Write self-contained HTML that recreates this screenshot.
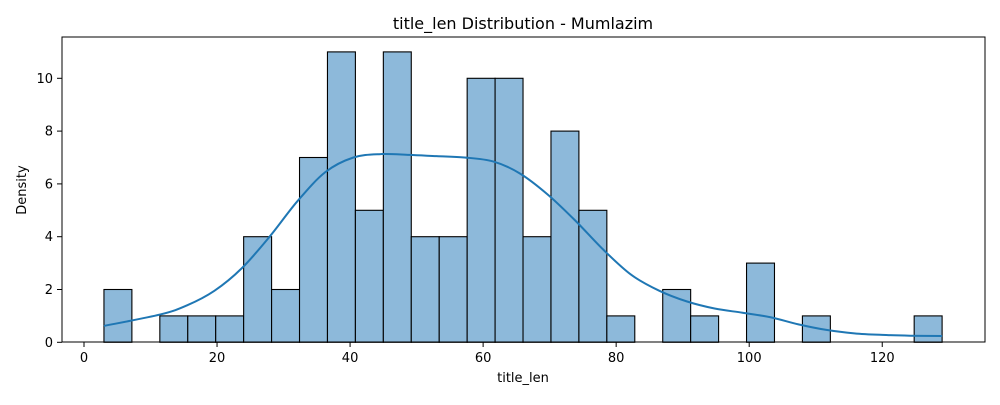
<!DOCTYPE html>
<html><head><meta charset="utf-8"><style>
body{margin:0;background:#fff;font-family:"Liberation Sans","DejaVu Sans",sans-serif}
svg text{font-family:"DejaVu Sans","Liberation Sans",sans-serif}
</style></head><body>
<svg id="chart" width="1000" height="400" xmlns="http://www.w3.org/2000/svg">
<rect width="1000" height="400" fill="#fff"/>
<text x="523" y="29" text-anchor="middle" font-size="16">title_len Distribution - Mumlazim</text>
<g id="bars"></g>
<path id="kde" fill="none" stroke="#1f77b4" stroke-width="2"/>
<rect x="62" y="37" width="923" height="305" fill="none" stroke="#000" stroke-width="1"/>
<g id="xticks"></g><g id="yticks"></g>
<text x="523" y="382" text-anchor="middle" font-size="13">title_len</text>
<text transform="translate(26,190) rotate(-90)" text-anchor="middle" font-size="13">Density</text>
</svg>
<script>
const binStart = 3;
const binWidth = 4.2;
const counts = [2,0,1,1,1,4,2,7,11,5,11,4,4,10,10,4,8,5,1,0,2,1,0,3,0,1,0,0,0,1];
const kdeX = [3,11.4,15.5,19.6,23.7,27.9,32.1,36.3,40.5,44.6,48.9,53,57.2,61.5,65.5,69.7,73.9,78.1,82.3,86.5,90.6,94.8,99,103.2,107.4,111.6,115.8,120,124.2,129];
const kdeY = [0.62,1.05,1.4,1.95,2.8,4.0,5.35,6.45,7.0,7.13,7.1,7.05,7.0,6.85,6.4,5.6,4.6,3.5,2.55,1.95,1.55,1.28,1.12,0.95,0.68,0.47,0.34,0.28,0.25,0.24];
const xTicks = [0,20,40,60,80,100,120];
const yTicks = [0,2,4,6,8,10];
const NS="http://www.w3.org/2000/svg";
const sx=v=>84+v*6.652;
const sy=v=>342.3-v*26.4;
const bars=document.getElementById('bars');
counts.forEach((c,i)=>{
  if(c<=0) return;
  const r=document.createElementNS(NS,'rect');
  const x0=sx(binStart+i*binWidth), x1=sx(binStart+(i+1)*binWidth);
  r.setAttribute('x',x0);r.setAttribute('y',sy(c));
  r.setAttribute('width',x1-x0);r.setAttribute('height',sy(0)-sy(c));
  r.setAttribute('fill','#8db9da');r.setAttribute('stroke','#000');r.setAttribute('stroke-width','1.1');
  
  
  bars.appendChild(r);
});
const pts=kdeX.map((x,i)=>[sx(x),sy(kdeY[i])]);
let d='M'+pts[0][0]+','+pts[0][1];
for(let i=0;i<pts.length-1;i++){
  const p0=pts[Math.max(0,i-1)],p1=pts[i],p2=pts[i+1],p3=pts[Math.min(pts.length-1,i+2)];
  d+=' C'+(p1[0]+(p2[0]-p0[0])/6)+','+(p1[1]+(p2[1]-p0[1])/6)+' '+(p2[0]-(p3[0]-p1[0])/6)+','+(p2[1]-(p3[1]-p1[1])/6)+' '+p2[0]+','+p2[1];
}
document.getElementById('kde').setAttribute('d',d);
const xt=document.getElementById('xticks');
xTicks.forEach(t=>{
  const l=document.createElementNS(NS,'line');
  l.setAttribute('x1',sx(t));l.setAttribute('x2',sx(t));l.setAttribute('y1',342);l.setAttribute('y2',347);l.setAttribute('stroke','#000');
  
  
  xt.appendChild(l);
  const tx=document.createElementNS(NS,'text');
  tx.setAttribute('x',sx(t));tx.setAttribute('y',362);tx.setAttribute('text-anchor','middle');tx.setAttribute('font-size','13');
  tx.textContent=t;
  
  
  xt.appendChild(tx);
});
const yt=document.getElementById('yticks');
yTicks.forEach(t=>{
  const l=document.createElementNS(NS,'line');
  l.setAttribute('x1',57);l.setAttribute('x2',62);l.setAttribute('y1',sy(t));l.setAttribute('y2',sy(t));l.setAttribute('stroke','#000');
  
  
  yt.appendChild(l);
  const tx=document.createElementNS(NS,'text');
  tx.setAttribute('x',53);tx.setAttribute('y',sy(t)+4.5);tx.setAttribute('text-anchor','end');tx.setAttribute('font-size','13');
  tx.textContent=t;
  
  
  yt.appendChild(tx);
});
</script>
</body></html>
